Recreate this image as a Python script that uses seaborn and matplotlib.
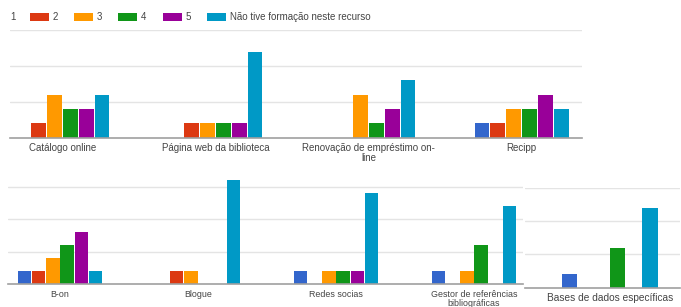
import pandas as pd
import matplotlib.pyplot as plt
import seaborn as sns
from matplotlib.patches import Rectangle

# Níveis de avaliação e cores (paleta Google Forms)
niveis = ['1', '2', '3', '4', '5', 'Não tive formação neste recurso']
cores = ['#3366cc', '#dc3912', '#ff9900', '#109618', '#990099', '#0099c6']

# Linha de cima
recursos_top = ['Catálogo online', 'Página web da biblioteca',
                'Renovação de empréstimo on-\nline', 'Recipp']
top_1 = [0, 0, 0, 1]
top_2 = [1, 1, 0, 1]
top_3 = [3, 1, 3, 2]
top_4 = [2, 1, 1, 2]
top_5 = [2, 1, 2, 3]
top_n = [3, 6, 4, 2]

# Linha de baixo
recursos_bot = ['B-on', 'Blogue', 'Redes socias',
                'Gestor de referências\nbibliográficas']
bot_1 = [1, 0, 1, 1]
bot_2 = [1, 1, 0, 0]
bot_3 = [2, 1, 1, 1]
bot_4 = [3, 0, 1, 3]
bot_5 = [4, 0, 1, 0]
bot_n = [1, 8, 7, 6]

# Painel à parte
recursos_bases = ['Bases de dados específicas']
bases_1 = [1]
bases_2 = [0]
bases_3 = [0]
bases_4 = [3]
bases_5 = [0]
bases_n = [6]


def longo(recursos, series):
    rows = []
    for nivel, valores in zip(niveis, series):
        for r, v in zip(recursos, valores):
            rows.append({'recurso': r, 'nivel': nivel, 'n': v})
    return pd.DataFrame(rows)


df_top = longo(recursos_top, [top_1, top_2, top_3, top_4, top_5, top_n])
df_bot = longo(recursos_bot, [bot_1, bot_2, bot_3, bot_4, bot_5, bot_n])
df_bases = longo(recursos_bases, [bases_1, bases_2, bases_3, bases_4, bases_5, bases_n])

sns.set_style('white')
plt.rcParams['font.family'] = ['Liberation Sans', 'DejaVu Sans']

W, H = 681, 307
fig = plt.figure(figsize=(W / 100, H / 100), dpi=100)


def px_axes(x0, y0, x1, y1):
    return fig.add_axes([x0 / W, 1 - y1 / H, (x1 - x0) / W, (y1 - y0) / H])


def desenha(ax, df, ymax, xlim, fsize):
    sns.barplot(data=df, x='recurso', y='n', hue='nivel', hue_order=niveis,
                palette=cores, saturation=1, width=0.62, gap=0.06, linewidth=0,
                legend=False, ax=ax)
    ax.set_ylim(0, ymax)
    ax.set_xlim(*xlim)
    ax.set_yticks([2.5, 5, 7.5])
    ax.set_yticklabels([])
    ax.grid(axis='y', color='#e4e4e4', lw=1)
    ax.set_axisbelow(True)
    for s in ['top', 'left', 'right']:
        ax.spines[s].set_visible(False)
    ax.spines['bottom'].set_color('#a0a0a0')
    ax.spines['bottom'].set_linewidth(1.2)
    ax.tick_params(length=0, labelsize=fsize, labelcolor='#444444', pad=4)
    ax.tick_params(axis='y', length=0, pad=0)
    for lbl in ax.get_xticklabels():
        lbl.set_linespacing(1.0)
    ax.set_xlabel('')
    ax.set_ylabel('')


ax1 = px_axes(10, 30, 582, 137.7)
desenha(ax1, df_top, 7.5, (-0.343, 3.395), 7)

ax2 = px_axes(8, 154.3, 523, 284.3)
desenha(ax2, df_bot, 10, (-0.377, 3.355), 6.4)
ax2.patch.set_visible(False)

ax3 = px_axes(525, 187.7, 680, 287.7)
desenha(ax3, df_bases, 7.5, (-0.548, 0.452), 7.3)

# Legenda (o quadrado do nível 1 ficou cortado no original)
leg_x = [-13, 30, 74, 118, 163, 207]
for i, (nivel, cor) in enumerate(zip(niveis, cores)):
    x = leg_x[i]
    if i > 0:
        fig.add_artist(Rectangle((x / W, 1 - 21 / H), 19 / W, 8 / H,
                                 transform=fig.transFigure, color=cor, lw=0))
    fig.text((x + 23) / W, 1 - 17 / H, nivel, fontsize=7, color='#444444',
             va='center', ha='left')

fig.savefig('out.png', dpi=100)
